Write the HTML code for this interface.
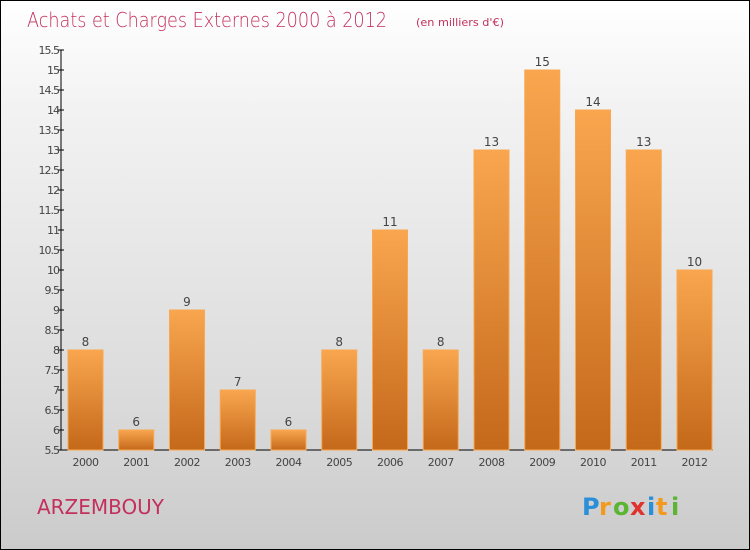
<!DOCTYPE html>
<html><head><meta charset="utf-8"><style>
html,body{margin:0;padding:0;}
body{width:750px;height:550px;overflow:hidden;font-family:"DejaVu Sans","Liberation Sans",sans-serif;}
#wrap{position:absolute;left:0;top:0;width:748px;height:548px;border:1px solid #000;background:linear-gradient(#ffffff,#f2f2f2 20%,#dcdcdc 70%,#cbcbcb);}
</style></head><body>
<div id="wrap">
<svg id="chart" width="750" height="550" style="position:absolute;left:-1px;top:-1px">
<defs><linearGradient id="bg" x1="0" y1="0" x2="0" y2="1"><stop offset="0" stop-color="#f9a64f"/><stop offset="1" stop-color="#c4681a"/></linearGradient></defs>
<text x="27" y="27" font-size="20" fill="#c4305e" font-weight="200" style="font-family:'DejaVu Sans',sans-serif" textLength="360" lengthAdjust="spacingAndGlyphs">Achats et Charges Externes 2000 à 2012</text>
<text x="416" y="26" font-size="11" fill="#c4305e" textLength="88" lengthAdjust="spacingAndGlyphs">(en milliers d'€)</text>
<text x="37" y="514" font-size="20" fill="#c4305e" textLength="127" lengthAdjust="spacingAndGlyphs">ARZEMBOUY</text>
<g font-size="24" font-weight="bold" font-family="'DejaVu Sans',sans-serif">
<text x="582" y="515" fill="#2a8fd8">P</text><text x="599" y="515" fill="#f39a1e">r</text><text x="613" y="515" fill="#5bb532">o</text><text x="630" y="515" fill="#e0332f">x</text><text x="647" y="515" fill="#2a8fd8">i</text><text x="656" y="515" fill="#f39a1e">t</text><text x="671" y="515" fill="#5bb532">i</text>
</g>
<g id="axes"></g><g id="bars"></g>
</svg>
</div>
<script>
const years=["2000","2001","2002","2003","2004","2005","2006","2007","2008","2009","2010","2011","2012"];
const values=[8,6,9,7,6,8,11,8,13,15,14,13,10];
const yTicks=[5.5,6,6.5,7,7.5,8,8.5,9,9.5,10,10.5,11,11.5,12,12.5,13,13.5,14,14.5,15,15.5];
const NS="http://www.w3.org/2000/svg";
const x0=61,band=50.75,y0=450,yMin=5.5,yMax=15.5,yTop=50;
const yS=v=>y0-(v-yMin)/(yMax-yMin)*(y0-yTop);
const xS=i=>x0+i*band;
function mk(t,a,p){const e=document.createElementNS(NS,t);for(const k in a)e.setAttribute(k,a[k]);p.appendChild(e);return e;}
const ax=document.getElementById('axes'),bs=document.getElementById('bars');
let l=mk('line',{x1:x0,y1:yTop,x2:x0,y2:y0,stroke:'#000'},ax);


l=mk('line',{x1:x0,y1:y0,x2:x0+13*band-8,y2:y0,stroke:'#000'},ax);


yTicks.forEach(v=>{const y=yS(v);
mk('line',{x1:x0-3,y1:y,x2:x0+3,y2:y,stroke:'#000'},ax);
const t=mk('text',{x:x0-2,y:y+4,'font-size':11,fill:'#444','text-anchor':'end','letter-spacing':'-1'},ax);t.textContent=String(v);

});
values.forEach((v,i)=>{const x=xS(i)+7,w=35,y=yS(v);
const r=mk('rect',{x:x,y:y,width:w,height:y0-y,fill:'url(#bg)',stroke:'#f7a850','stroke-width':1},bs);


const t=mk('text',{x:x+w/2,y:y-4,'font-size':12,fill:'#444','text-anchor':'middle'},bs);t.textContent=String(v);


const c=mk('text',{x:x+w/2,y:y0+16,'font-size':11,fill:'#444','text-anchor':'middle','letter-spacing':'-0.5'},bs);c.textContent=years[i];

});
</script>
</body></html>
